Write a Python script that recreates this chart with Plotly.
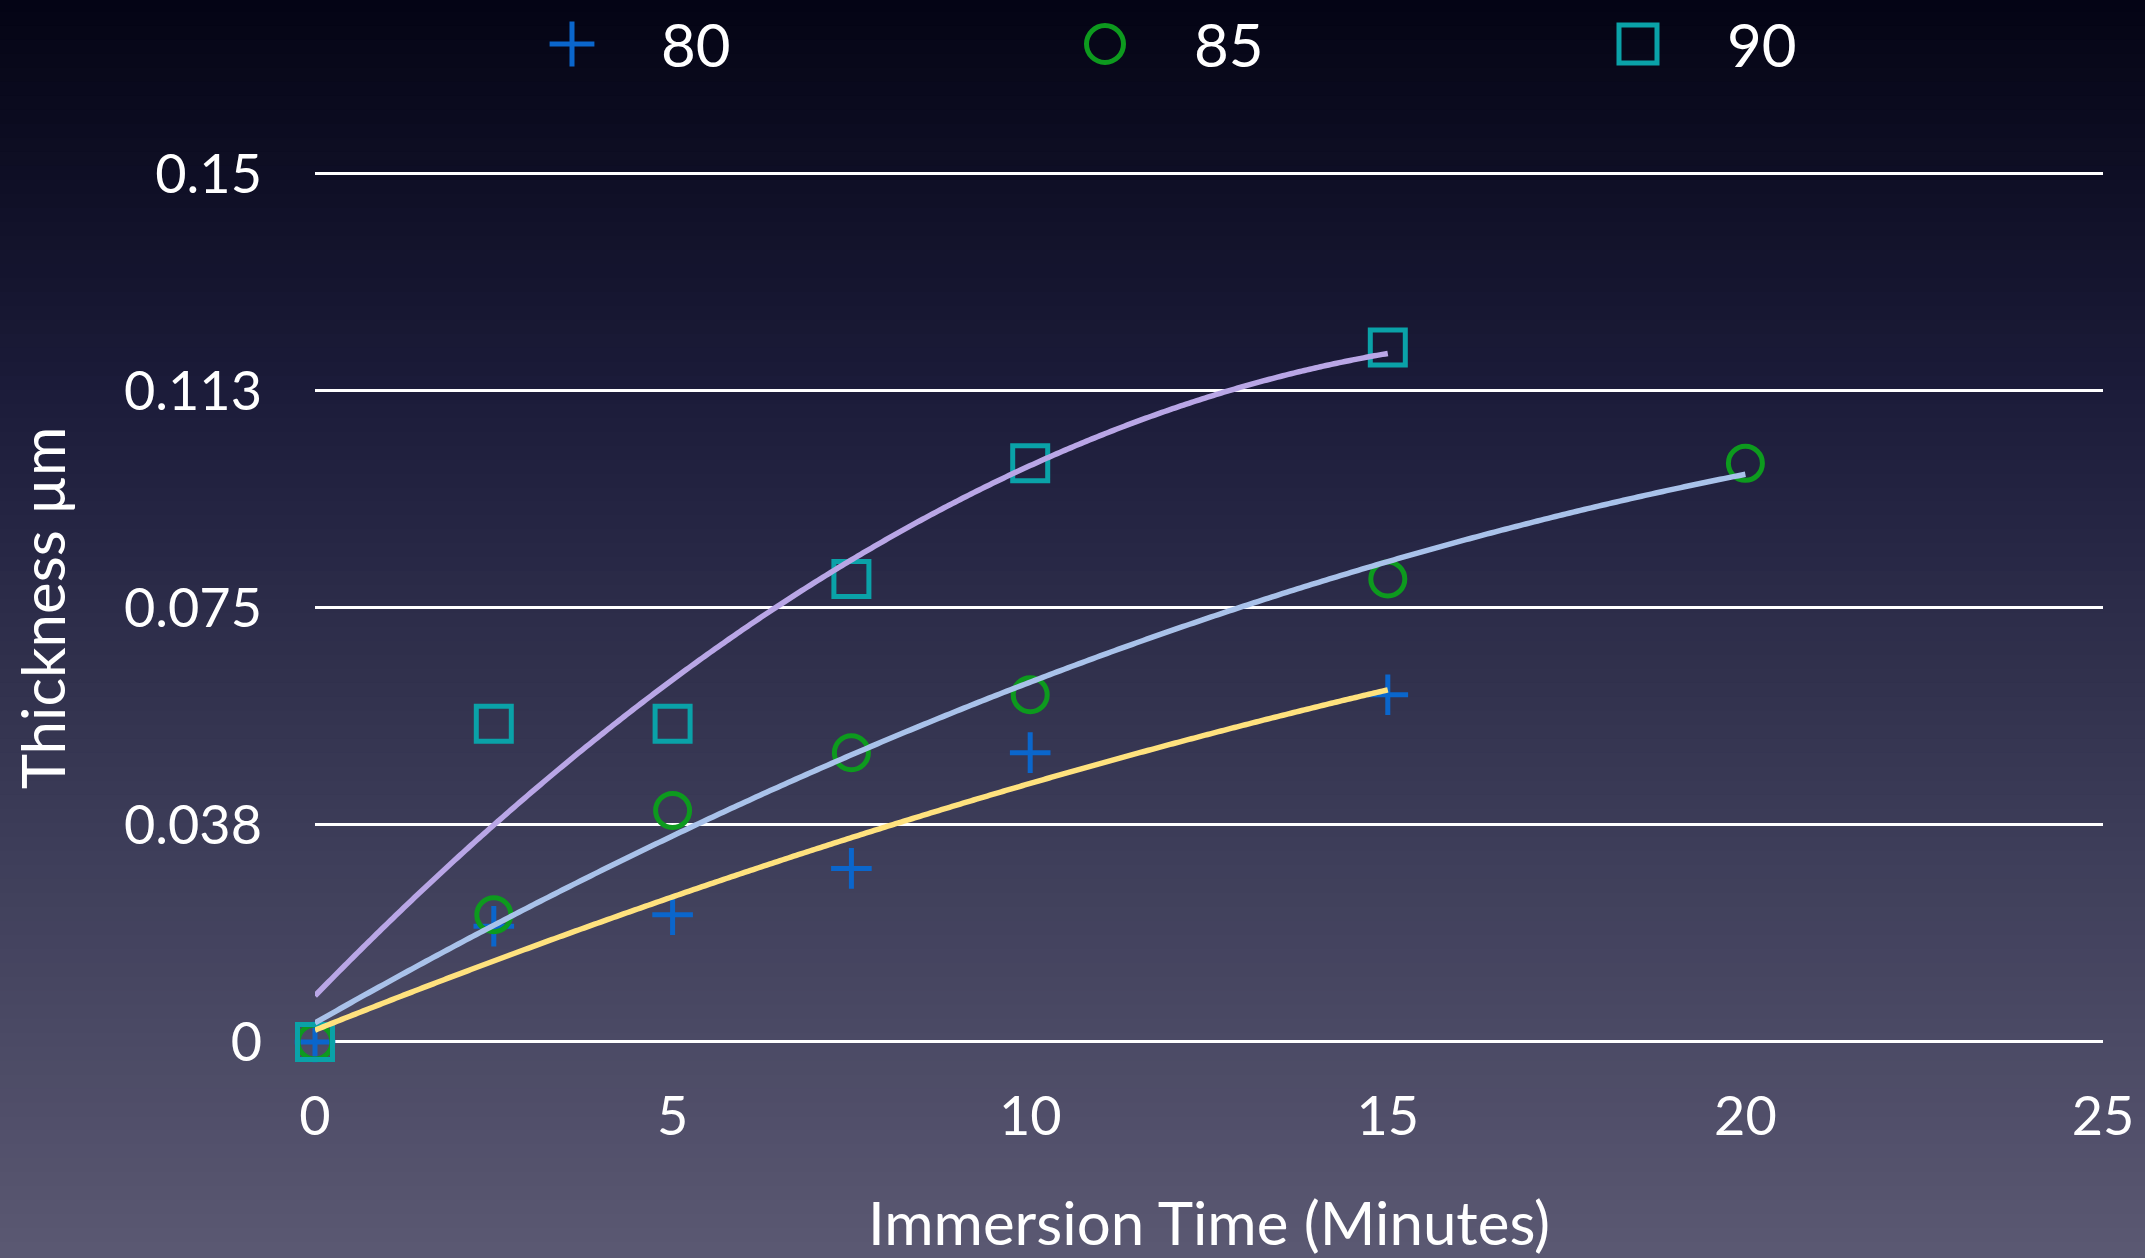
import numpy as np
import plotly.graph_objects as go

# ---------------- data ----------------
series_names = ["80", "85", "90"]
x_80 = [0, 2.5, 5, 7.5, 10, 15]
y_80 = [0, 0.020, 0.022, 0.030, 0.050, 0.060]
x_85 = [0, 2.5, 5, 7.5, 10, 15, 20]
y_85 = [0, 0.022, 0.040, 0.050, 0.060, 0.080, 0.100]
x_90 = [0, 2.5, 5, 7.5, 10, 15]
y_90 = [0, 0.055, 0.055, 0.080, 0.100, 0.120]

y_tickvals = [0, 0.0375, 0.075, 0.1125, 0.15]
y_ticktext = ["0", "0.038", "0.075", "0.113", "0.15"]
x_tickvals = [0, 5, 10, 15, 20, 25]

# ---------------- styles ----------------
W, H = 2145, 1258
ML, MR, MT, MB = 315, 42, 10, 200
PW, PH = W - ML - MR, H - MT - MB
FONT = "Lato"
Y_TOP_PX, Y_BOT_PX = 174, 1042          # pixel rows for y=0.15 and y=0
PAD = 0.0006                             # tiny range pad so edge gridlines are drawn
px_per_unit = (Y_BOT_PX - Y_TOP_PX) / 0.15

marker_styles = {
    "80": dict(symbol="cross-thin-open", size=29, color="#0a66cc", line=dict(width=5, color="#0a66cc")),
    "85": dict(symbol="circle-open", size=34, color="#0d9a1e", line=dict(width=5, color="#0d9a1e")),
    "90": dict(symbol="square-open", size=35, color="#0aa2a8", line=dict(width=5, color="#0aa2a8")),
}
trend_colors = {"80": "#ffe27e", "85": "#a9c2ea", "90": "#b9a6e6"}

data = {"80": (x_80, y_80), "85": (x_85, y_85), "90": (x_90, y_90)}

fig = go.Figure()

# background gradient (shapes in paper coords covering whole canvas)
stops_px = [0, 400, 800, H]
stops_c = [(4, 4, 20), (28, 28, 58), (58, 58, 86), (90, 88, 114)]
N = 90
shapes = []
for i in range(N):
    y0p = H * i / N
    y1p = H * (i + 1) / N
    yc = (y0p + y1p) / 2
    c = [int(round(np.interp(yc, stops_px, [s[k] for s in stops_c]))) for k in range(3)]
    col = "rgb(%d,%d,%d)" % tuple(c)
    shapes.append(dict(
        type="rect", xref="paper", yref="paper", layer="below",
        x0=-ML / PW - 0.02, x1=(W - ML) / PW + 0.02,
        y0=(H - MB - y1p) / PH - 0.002, y1=(H - MB - y0p) / PH + 0.002,
        fillcolor=col, line=dict(width=0),
    ))
shapes[0]["y1"] += 0.05
shapes[-1]["y0"] -= 0.05

# markers
for name in series_names:
    xs, ys = data[name]
    ms = marker_styles[name]
    fig.add_trace(go.Scatter(
        x=xs, y=ys, mode="markers", name=name, showlegend=False,
        marker=dict(symbol=ms["symbol"], size=ms["size"], color=ms["color"], line=ms["line"]),
        cliponaxis=False,
    ))

# polynomial trendlines
for name in series_names:
    xs, ys = data[name]
    coef = np.polyfit(xs, ys, 2)
    xx = np.linspace(min(xs), max(xs), 400)
    yy = np.polyval(coef, xx)
    fig.add_trace(go.Scatter(
        x=xx, y=yy, mode="lines", showlegend=False,
        line=dict(color=trend_colors[name], width=5.5, simplify=False), cliponaxis=False,
    ))

# custom legend on a hidden subplot (x2 in pixels from plot-left)
leg_start, leg_step, leg_gap = 257, 533, 87
annotations = []
for i, name in enumerate(series_names):
    ms = marker_styles[name]
    xpos = leg_start + i * leg_step
    fig.add_trace(go.Scatter(
        x=[xpos], y=[0.5], mode="markers", xaxis="x2", yaxis="y2", showlegend=False,
        marker=dict(symbol=ms["symbol"], size=ms["size"] + 3, color=ms["color"], line=ms["line"]),
        cliponaxis=False, hoverinfo="skip",
    ))
    annotations.append(dict(
        x=xpos + leg_gap, y=0.5, xref="x2", yref="y2", text=name, showarrow=False,
        xanchor="left", yanchor="middle", font=dict(family=FONT, size=60, color="white"),
    ))

pad_px = PAD * px_per_unit
dom_top = (H - MB - (Y_TOP_PX - pad_px)) / PH
dom_bot = (H - MB - (Y_BOT_PX + pad_px)) / PH
leg_c = (H - MB - 44) / PH

fig.update_layout(
    width=W, height=H,
    margin=dict(l=ML, r=MR, t=MT, b=MB, autoexpand=False),
    paper_bgcolor="#3a3a56",
    plot_bgcolor="rgba(0,0,0,0)",
    font=dict(family=FONT, color="white"),
    shapes=shapes,
    annotations=annotations,
    showlegend=False,
    xaxis=dict(
        range=[0, 25], tickvals=x_tickvals, showgrid=False, zeroline=False,
        showline=False, ticks="", tickfont=dict(size=54, color="white"),
        ticklabelstandoff=int(round(38 - pad_px)), automargin=False, anchor="y",
        title=dict(text="Immersion Time (Minutes)", font=dict(size=60, color="white"), standoff=61),
        domain=[0, 1],
    ),
    yaxis=dict(
        range=[-PAD, 0.15 + PAD], tickvals=y_tickvals, ticktext=y_ticktext,
        showgrid=True, gridcolor="white", gridwidth=3, zeroline=False,
        showline=False, ticks="", tickfont=dict(size=54, color="white"),
        ticklabelstandoff=52, automargin=False,
        title=dict(text="Thickness µm", font=dict(size=60, color="white"), standoff=38),
        domain=[dom_bot, dom_top],
    ),
    xaxis2=dict(domain=[0, 1], range=[0, PW], visible=False, anchor="y2", fixedrange=True, automargin=False),
    yaxis2=dict(domain=[leg_c - 0.03, leg_c + 0.03], range=[0, 1], visible=False, anchor="x2",
                fixedrange=True, automargin=False),
)

fig.write_html(
    "out.html",
    config={"displayModeBar": False},
    post_script="document.body.style.margin='0';document.body.style.overflow='hidden';",
)
